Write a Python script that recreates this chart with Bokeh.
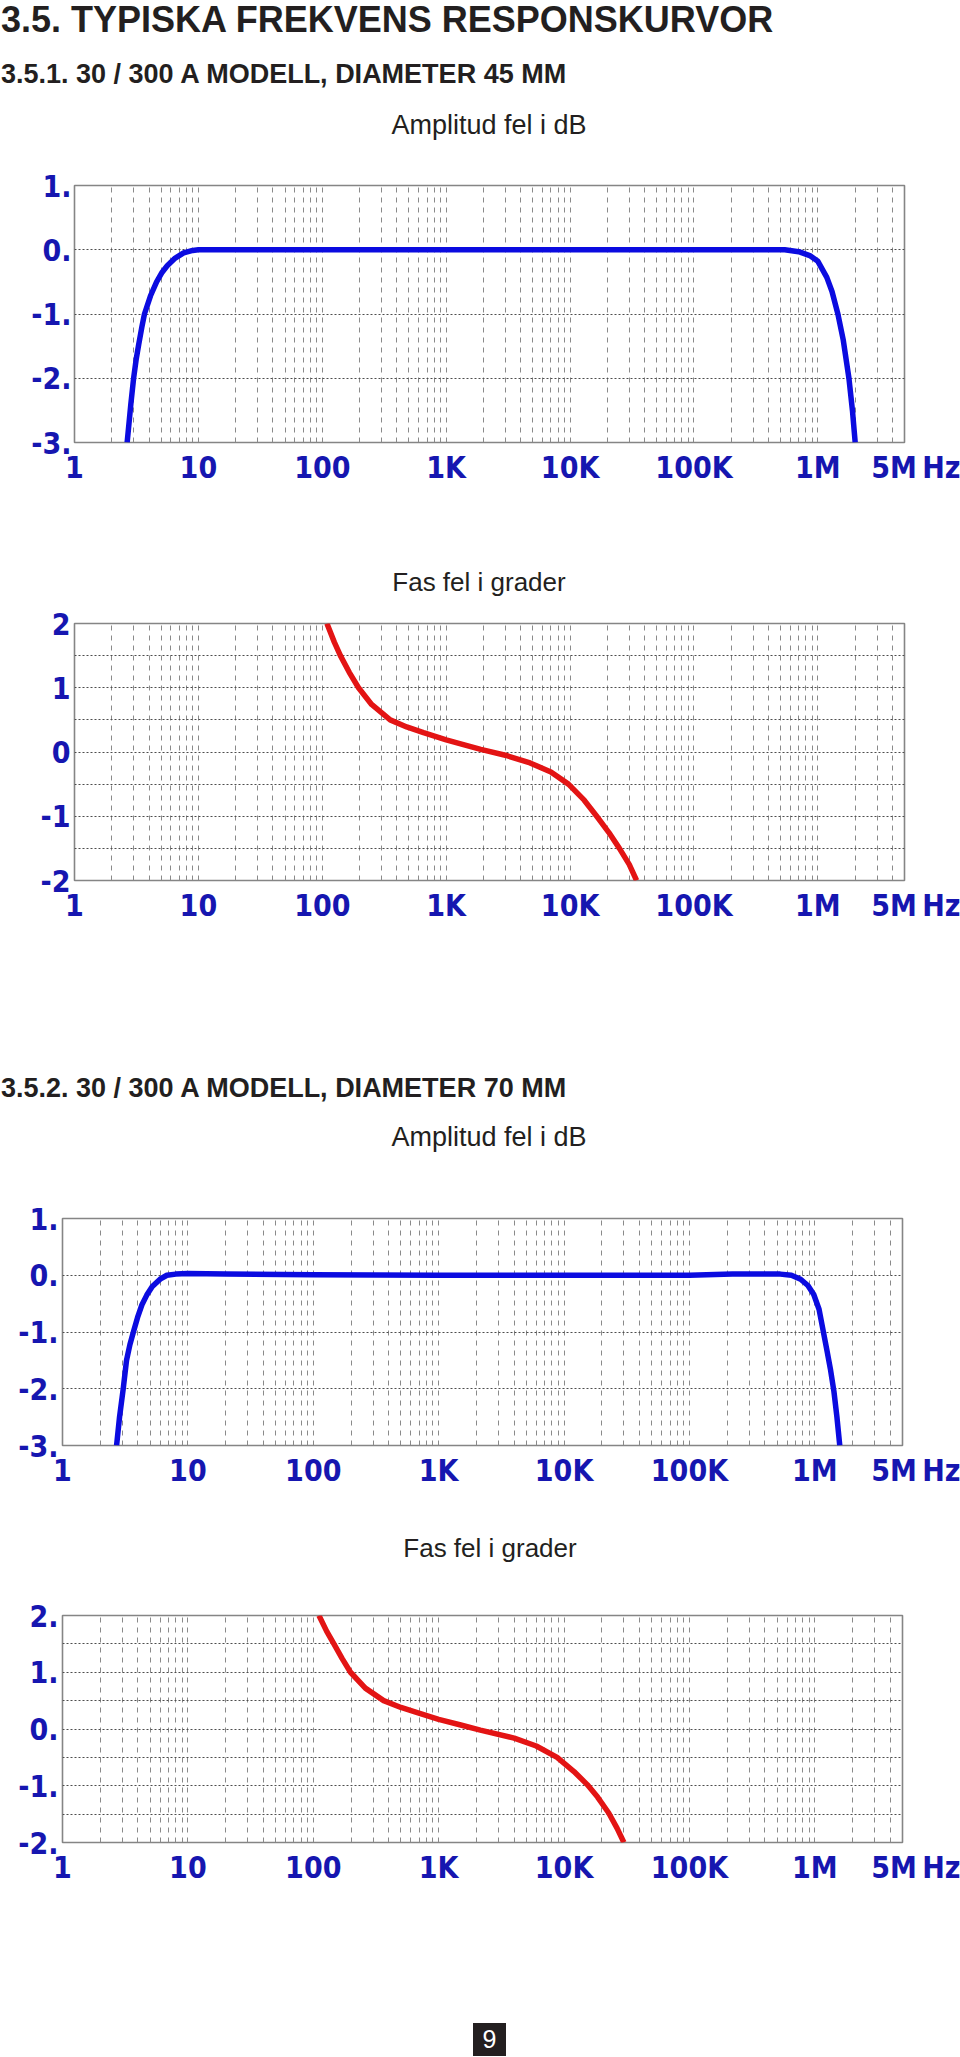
from bokeh.plotting import figure
from bokeh.models import FixedTicker, Div, Range1d
from bokeh.layouts import column
from bokeh.embed import file_html
from bokeh.resources import INLINE

# ---------------- data ----------------
section_title = "3.5. TYPISKA FREKVENS RESPONSKURVOR"
sub45_title = "3.5.1. 30 / 300 A MODELL, DIAMETER 45 MM"
sub70_title = "3.5.2. 30 / 300 A MODELL, DIAMETER 70 MM"
amp_title = "Amplitud fel i dB"
phase_title = "Fas fel i grader"
page_number = "9"

x_ticks = [1, 10, 100, 1000, 10000, 100000, 1000000, 5000000]
x_tick_labels = ["1", "10", "100", "1K", "10K", "100K", "1M", "5M"]
x_unit = "Hz"

amp_ticks = [-3, -2, -1, 0, 1]
amp_tick_labels = ["-3.", "-2.", "-1.", "0.", "1."]
phase_ticks = [-2, -1, 0, 1, 2]
phase45_tick_labels = ["-2", "-1", "0", "1", "2"]
phase70_tick_labels = ["-2.", "-1.", "0.", "1.", "2."]
phase_minor = [-1.5, -0.5, 0.5, 1.5]

# 45 mm, amplitude error (dB)
amp45_freq = [2.66, 2.85, 3.0, 3.15, 3.3, 3.5, 3.67, 4.1, 4.6, 5.1, 5.6, 6.5, 7.6, 9.0, 10,
              100, 1e3, 1e4, 1e5, 5.4e5, 7.0e5, 8.6e5, 1.0e6, 1.18e6, 1.3e6, 1.45e6, 1.6e6,
              1.78e6, 1.9e6, 2.0e6]
amp45_db = [-3.0, -2.4, -2.0, -1.7, -1.47, -1.2, -1.0, -0.72, -0.5, -0.35, -0.25, -0.13, -0.05,
            -0.01, 0.0, 0.0, 0.0, 0.0, 0.0, 0.0, -0.03, -0.09, -0.18, -0.43, -0.65, -1.0, -1.4,
            -2.0, -2.5, -3.0]

# 45 mm, phase error (degrees)
phase45_freq = [109, 125, 140, 165, 196, 250, 353, 480, 656, 1000, 1400, 1900, 3000, 4750,
                7000, 9700, 13000, 16400, 20500, 25000, 30000, 34400]
phase45_deg = [2.0, 1.71, 1.5, 1.24, 1.0, 0.74, 0.5, 0.39, 0.3, 0.19, 0.11, 0.04, -0.05, -0.17,
               -0.31, -0.5, -0.75, -1.0, -1.25, -1.5, -1.75, -2.0]

# 70 mm, amplitude error (dB)
amp70_freq = [2.7, 2.85, 3.05, 3.24, 3.45, 3.7, 4.0, 4.3, 4.7, 5.2, 6.0, 6.8, 8.0, 10, 20, 100,
              1e3, 1e4, 1e5, 2.2e5, 5.3e5, 6.5e5, 7.7e5, 8.8e5, 9.8e5, 1.08e6, 1.17e6, 1.25e6,
              1.33e6, 1.42e6, 1.5e6, 1.58e6]
amp70_db = [-3.0, -2.5, -2.0, -1.5, -1.22, -0.98, -0.72, -0.52, -0.35, -0.2, -0.07, 0.0, 0.02,
            0.03, 0.02, 0.01, 0.0, 0.0, 0.0, 0.02, 0.02, 0.0, -0.07, -0.18, -0.34, -0.6, -1.0,
            -1.33, -1.65, -2.05, -2.5, -3.0]

# 70 mm, phase error (degrees)
phase70_freq = [111, 128, 146, 170, 198, 260, 364, 500, 675, 1000, 1500, 2150, 4000, 6000,
                8800, 12000, 15300, 18500, 22700, 26500, 30000]
phase70_deg = [2.0, 1.72, 1.5, 1.24, 1.0, 0.72, 0.5, 0.38, 0.29, 0.17, 0.07, -0.02, -0.16, -0.3,
               -0.5, -0.75, -0.98, -1.2, -1.48, -1.75, -2.0]

# ---------------- style ----------------
PAGE_W = 960
LABEL_BLUE = "#1616B0"
AMP_BLUE = "#0B0BE0"
PHASE_RED = "#E31414"
TEXT_DARK = "#231F20"
TICK_FONT = "DejaVu Sans Condensed, Noto Sans Condensed, Liberation Sans Narrow, Roboto, sans-serif"
TICK_SIZE = "30px"

x_minor = [m * 10 ** d for d in range(0, 7) for m in range(2, 10) if m * 10 ** d < x_ticks[-1]]

# last tick label carries the unit; leading no-break spaces keep "5M" near its tick
x_label_map = {int(t): l for t, l in zip(x_ticks, x_tick_labels)}
x_label_map[int(x_ticks[-1])] = "\u00a0" * 6 + x_tick_labels[-1] + "\u202f" + x_unit


def chart(freq, vals, color, yticks, ylabels, yminor, height, top, bottom, left, frame_w, ystand):
    right = PAGE_W - left - frame_w
    p = figure(width=PAGE_W, height=height, x_axis_type="log",
               x_range=Range1d(x_ticks[0], x_ticks[-1]),
               y_range=Range1d(yticks[0], yticks[-1]),
               output_backend="svg", toolbar_location=None, title=None,
               min_border_left=left, min_border_right=right,
               min_border_top=top, min_border_bottom=bottom,
               background_fill_color="white", border_fill_color="white",
               outline_line_color="#858585", outline_line_width=1.6)
    p.line(freq, vals, line_color=color, line_width=5.5, line_join="round")

    xt = FixedTicker(ticks=x_ticks, minor_ticks=x_minor)
    p.xaxis.ticker = xt
    p.xgrid.ticker = xt
    p.xaxis.major_label_overrides = dict(x_label_map)
    yt = FixedTicker(ticks=yticks, minor_ticks=yminor)
    p.yaxis.ticker = yt
    p.ygrid.ticker = yt
    p.yaxis.major_label_overrides = {int(t): l for t, l in zip(yticks, ylabels)}

    for ax in (p.xaxis, p.yaxis):
        ax.axis_line_color = None
        ax.major_tick_line_color = None
        ax.minor_tick_line_color = None
        ax.major_tick_out = 0
        ax.major_tick_in = 0
        ax.minor_tick_out = 0
        ax.minor_tick_in = 0
        ax.major_label_text_font = TICK_FONT
        ax.major_label_text_font_size = TICK_SIZE
        ax.major_label_text_font_style = "bold"
        ax.major_label_text_color = LABEL_BLUE
    p.xaxis.major_label_standoff = 7
    p.yaxis.major_label_standoff = ystand

    p.xgrid.grid_line_color = "#8a8a8a"
    p.xgrid.grid_line_dash = "5 5"
    p.xgrid.grid_line_width = 1
    p.xgrid.minor_grid_line_color = "#8a8a8a"
    p.xgrid.minor_grid_line_dash = "5 5"
    p.xgrid.minor_grid_line_width = 1
    p.ygrid.grid_line_color = "#4d4d4d"
    p.ygrid.grid_line_dash = "2 2"
    p.ygrid.grid_line_width = 1
    if yminor:
        p.ygrid.minor_grid_line_color = "#4d4d4d"
        p.ygrid.minor_grid_line_dash = "2 2"
        p.ygrid.minor_grid_line_width = 1
    return p


def txt(s, left, top, size, bold=False, center=False):
    tr = "transform:translateX(-50%);" if center else ""
    fw = "bold" if bold else "normal"
    return (f'<div style="position:absolute;left:{left}px;top:{top}px;{tr}font-size:{size}px;'
            f'line-height:{size}px;font-weight:{fw};white-space:nowrap;">{s}</div>')


def block(inner, height):
    html = (f'<div style="position:relative;width:{PAGE_W}px;height:{height}px;color:{TEXT_DARK};'
            f"font-family:'Liberation Sans',Arial,sans-serif;\">{inner}</div>")
    return Div(text=html, width=PAGE_W, height=height, margin=0,
               styles={"overflow": "visible"})


div_top = block(txt(section_title, 1, 2, 36, bold=True)
                + txt(sub45_title, 1, 61, 27, bold=True)
                + txt(amp_title, 489, 112, 27, center=True), 150)

fig_a = chart(amp45_freq, amp45_db, AMP_BLUE, amp_ticks, amp_tick_labels, [],
              height=380, top=35, bottom=88, left=74, frame_w=830, ystand=3)

div_mid1 = block(txt(phase_title, 479, 39, 26, center=True), 70)

fig_b = chart(phase45_freq, phase45_deg, PHASE_RED, phase_ticks, phase45_tick_labels, phase_minor,
              height=460, top=23, bottom=180, left=74, frame_w=830, ystand=4)

div_mid2 = block(txt(sub70_title, 1, 15, 27, bold=True)
                 + txt(amp_title, 489, 64, 27, center=True), 120)

fig_c = chart(amp70_freq, amp70_db, AMP_BLUE, amp_ticks, amp_tick_labels, [],
              height=320, top=38, bottom=55, left=62, frame_w=840, ystand=4)

div_mid3 = block(txt(phase_title, 490, 35, 26, center=True), 90)

fig_d = chart(phase70_freq, phase70_deg, PHASE_RED, phase_ticks, phase70_tick_labels, phase_minor,
              height=310, top=25, bottom=58, left=62, frame_w=840, ystand=4)

box = (f'<div style="position:absolute;left:473px;top:123px;width:33px;height:33px;'
       f'background:{TEXT_DARK};color:#ffffff;font-size:25px;line-height:33px;'
       f'text-align:center;">{page_number}</div>')
div_bottom = block(box, 140)

part_45 = column(div_top, fig_a, div_mid1, fig_b, spacing=0)
part_70 = column(div_mid2, fig_c, div_mid3, fig_d, div_bottom, spacing=0)
layout = column(part_45, part_70, spacing=0)

open("out.html", "w").write(file_html(layout, INLINE, title="Frekvens responskurvor"))
